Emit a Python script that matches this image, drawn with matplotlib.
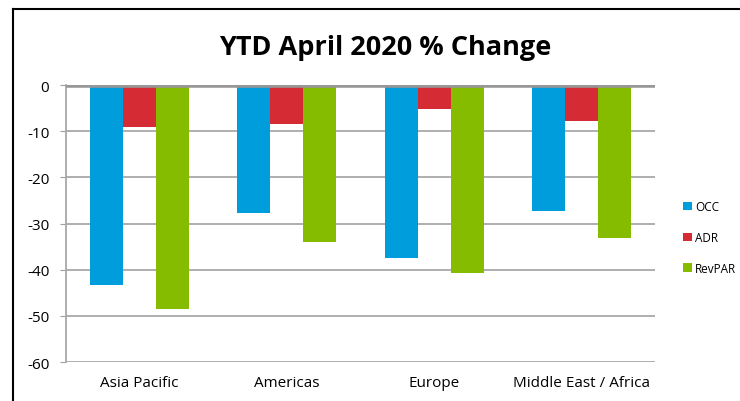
import numpy as np
import matplotlib.pyplot as plt
from matplotlib.lines import Line2D

# data
regions = ['Asia Pacific', 'Americas', 'Europe', 'Middle East / Africa']
occ = [-43.3, -27.8, -37.4, -27.3]
adr = [-9.0, -8.5, -5.3, -7.9]
revpar = [-48.5, -34.0, -40.7, -33.2]

plt.rcParams['font.family'] = ['Open Sans', 'DejaVu Sans']
plt.rcParams['axes.unicode_minus'] = False

fig = plt.figure(figsize=(7.4, 4.02), dpi=100)
ax = fig.add_axes([0.0892, 0.097, 0.7959, 0.689])

x = np.arange(len(regions))
w = 0.224
ax.bar(x - w, occ, w, color='#009ddc', label='OCC', zorder=3)
ax.bar(x, adr, w, color='#d52b34', label='ADR', zorder=3)
ax.bar(x + w, revpar, w, color='#86bc00', label='RevPAR', zorder=3)

ax.set_xlim(-0.5, len(regions) - 0.5)
ax.set_ylim(-60, 0)
ax.set_yticks(range(-60, 1, 10))
ax.set_xticks(x)
ax.set_xticklabels(regions, fontsize=11)
ax.tick_params(axis='y', labelsize=11, length=4, color='#a0a0a0', pad=8)
ax.tick_params(axis='x', length=0, pad=9)
ax.grid(axis='y', color='#a8a8a8', linewidth=1.3, zorder=0)
ax.axhline(0, color='#979797', linewidth=4, zorder=4)
for s in ['top', 'right', 'bottom']:
    ax.spines[s].set_visible(False)
ax.spines['left'].set_color('#a8a8a8')
ax.spines['left'].set_linewidth(1.3)

ax.legend(loc='center left', bbox_to_anchor=(1.03, 0.45), frameon=False,
          fontsize=8.5, handlelength=0.7, handleheight=0.7, handletextpad=0.3,
          labelspacing=1.5)

fig.suptitle('YTD April 2020 % Change', fontsize=19.5, fontweight='bold',
             x=0.52, y=0.912)

# chart border (cropped rectangle)
fig.add_artist(Line2D([0.0176, 1.0], [0.975, 0.975], color='black', linewidth=1.5))
fig.add_artist(Line2D([0.0176, 0.0176], [0.0, 0.975], color='black', linewidth=1.5))

fig.savefig('out.png', dpi=100)
